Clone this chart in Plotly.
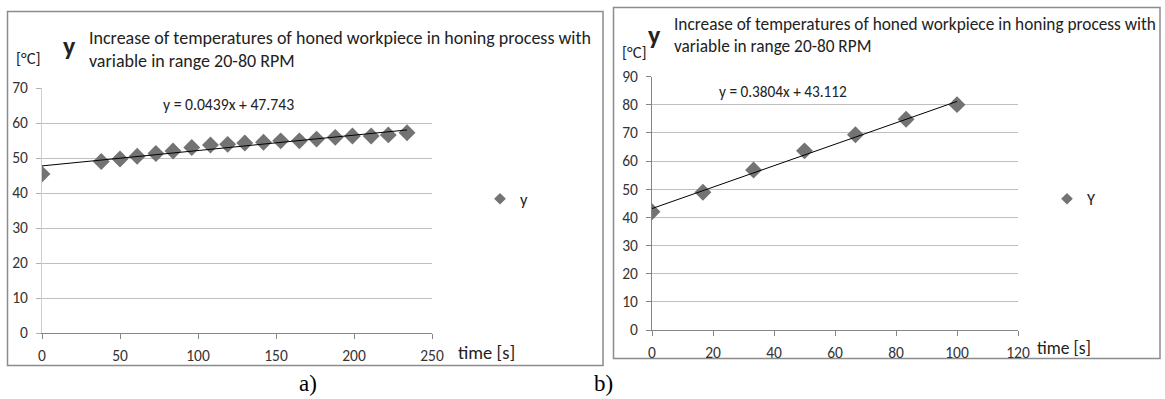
import plotly.graph_objects as go

W, H = 1165, 399

# ---- data ----
time_a = [0, 38, 50, 61, 73, 84, 96, 108, 119, 130, 142, 153, 165, 176, 188, 199, 211, 222, 234]
temp_a = [45.4, 49.0, 49.7, 50.5, 51.3, 52.0, 53.0, 53.7, 53.9, 54.3, 54.5, 54.9, 54.9, 55.4, 55.9, 56.3, 56.3, 56.6, 57.2]
slope_a, icept_a = 0.0439, 47.743

time_b = [0, 16.7, 33.3, 50, 66.7, 83.3, 100]
temp_b = [42.0, 48.9, 56.8, 63.6, 69.3, 74.8, 80.0]
slope_b, icept_b = 0.3804, 43.112

title_l1 = "Increase of temperatures of honed workpiece in honing process with"
title_l2 = "variable in range 20-80 RPM"

FONT = "Carlito, Lato, 'Open Sans', sans-serif"
MARK = "#737373"


def px(x):
    return x / W


def py(y):
    return 1 - y / H


fig = go.Figure()

# chart a
fig.add_trace(go.Scatter(x=time_a, y=temp_a, mode="markers", name="y", showlegend=False,
                         marker=dict(symbol="diamond", size=13, color=MARK),
                         xaxis="x", yaxis="y"))
fig.add_trace(go.Scatter(x=[0, time_a[-1]], y=[icept_a, slope_a * time_a[-1] + icept_a],
                         mode="lines", line=dict(color="#000000", width=1),
                         showlegend=False, xaxis="x", yaxis="y", hoverinfo="skip"))
fig.add_trace(go.Scatter(x=[None], y=[None], mode="markers", name="y", legend="legend",
                         marker=dict(symbol="diamond", size=9, color=MARK), xaxis="x", yaxis="y"))
# chart b
fig.add_trace(go.Scatter(x=time_b, y=temp_b, mode="markers", name="Y", showlegend=False,
                         marker=dict(symbol="diamond", size=13, color=MARK),
                         xaxis="x2", yaxis="y2"))
fig.add_trace(go.Scatter(x=[0, time_b[-1]], y=[icept_b, slope_b * time_b[-1] + icept_b],
                         mode="lines", line=dict(color="#000000", width=1),
                         showlegend=False, xaxis="x2", yaxis="y2", hoverinfo="skip"))
fig.add_trace(go.Scatter(x=[None], y=[None], mode="markers", name="Y", legend="legend2",
                         marker=dict(symbol="diamond", size=9, color=MARK), xaxis="x2", yaxis="y2"))

tickfont = dict(family=FONT, size=15.5, color="#333333")
xcommon = dict(showgrid=False, zeroline=False, showline=True, linecolor="#868686", linewidth=1,
               ticks="outside", ticklen=5, tickcolor="#868686", tickfont=tickfont,
               ticklabelstandoff=3, fixedrange=True, automargin=False)
ycommon = dict(showgrid=True, gridcolor="#BFBFBF", gridwidth=1, zeroline=False, showline=True,
               ticks="outside", ticklen=5, tickfont=tickfont, ticklabelstandoff=5,
               fixedrange=True, automargin=False, linewidth=1)

fig.update_layout(
    width=W, height=H,
    margin=dict(l=0, r=0, t=0, b=0, autoexpand=False),
    paper_bgcolor="white", plot_bgcolor="white",
    font=dict(family=FONT, color="#222222"),
    xaxis=dict(domain=[px(42), px(432)], range=[0, 250], dtick=50, anchor="y", **xcommon),
    yaxis=dict(domain=[py(333), py(88)], range=[0, 70], dtick=10, anchor="x",
               linecolor="#CDCDCD", tickcolor="#B0B0B0", **ycommon),
    xaxis2=dict(domain=[px(652), px(1018)], range=[0, 120], dtick=20, anchor="y2", **xcommon),
    yaxis2=dict(domain=[py(330), py(76.5)], range=[0, 90], dtick=10, anchor="x2",
                linecolor="#868686", tickcolor="#868686", **ycommon),
    legend=dict(x=px(480), y=py(199), xanchor="left", yanchor="middle", bgcolor="rgba(0,0,0,0)",
                font=dict(family=FONT, size=16.5, color="#222222"), itemsizing="trace"),
    legend2=dict(x=px(1047), y=py(199), xanchor="left", yanchor="middle", bgcolor="rgba(0,0,0,0)",
                 font=dict(family=FONT, size=16.5, color="#222222"), itemsizing="trace"),
    showlegend=True,
)

# frames
fig.add_shape(type="rect", xref="paper", yref="paper", x0=px(7.5), x1=px(603), y0=py(365.5), y1=py(11.5),
              line=dict(color="#8C8C8C", width=1.5), fillcolor="rgba(0,0,0,0)", layer="below")
fig.add_shape(type="rect", xref="paper", yref="paper", x0=px(613.5), x1=px(1160), y0=py(358.5), y1=py(7.5),
              line=dict(color="#8C8C8C", width=1.5), fillcolor="rgba(0,0,0,0)", layer="below")


def ann(text, x, y, size, xanchor="left", yanchor="middle", bold=False, family=FONT, color="#222222"):
    if bold:
        text = "<b>" + text + "</b>"
    fig.add_annotation(text=text, xref="paper", yref="paper", x=px(x), y=py(y), showarrow=False,
                       xanchor=xanchor, yanchor=yanchor,
                       font=dict(family=family, size=size, color=color))


SERIF = "'Liberation Serif', 'Times New Roman', serif"

# chart a texts
ann("y", 69, 46, 26, xanchor="center", bold=True)
ann(title_l1, 87, 38, 18)
ann(title_l2, 87, 61, 18)
ann("[°C]", 14, 58, 16.5)
ann("y = 0.0439x + 47.743", 229, 104, 15.7, xanchor="center")
ann("time [s]", 456, 352, 18.5)
ann("a)", 308, 383, 23, xanchor="center", family=SERIF, color="#000000")

# chart b texts
ann("y", 654, 35, 26, xanchor="center", bold=True)
ann(title_l1, 672, 24, 17.3)
ann(title_l2, 672, 46, 17.3)
ann("[°C]", 620, 52, 16.5)
ann("y = 0.3804x + 43.112", 783, 91, 15.3, xanchor="center")
ann("time [s]", 1035, 348, 17.5)
ann("b)", 603, 383, 23, xanchor="center", family=SERIF, color="#000000")

fig.write_html("out.html", config={"displayModeBar": False},
               post_script="document.body.style.margin='0';document.body.style.overflow='hidden';")
